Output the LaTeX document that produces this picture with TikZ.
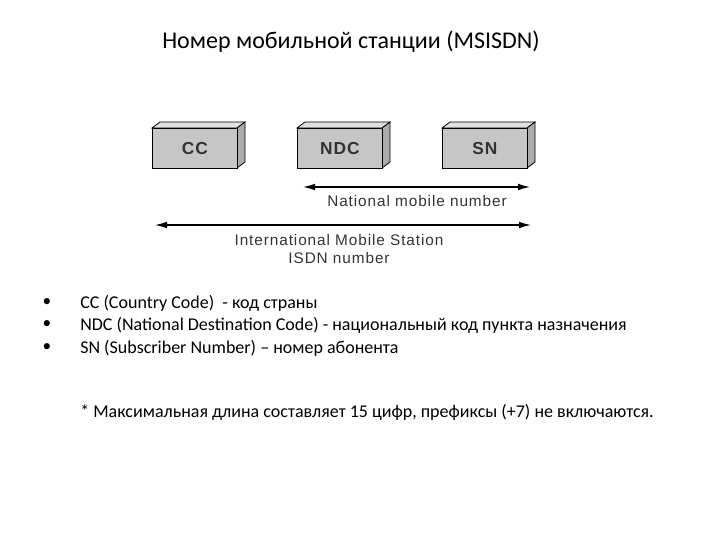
\documentclass[tikz,border=0pt]{standalone}
\usepackage{fontspec}
\setmainfont{Carlito}
\newfontfamily\arialf[LetterSpace=6]{Liberation Sans}
\usetikzlibrary{arrows.meta}
\begin{document}
\begin{tikzpicture}[x=0.75pt,y=-0.75pt,
  face/.style={draw=black,fill=gray!45,line width=0.6pt},
  topf/.style={draw=black,fill=gray!25,line width=0.6pt},
  sidef/.style={draw=black,fill=gray!65,line width=0.6pt},
  lbl/.style={font=\arialf\bfseries\fontsize{13}{13}\selectfont,text=black!80},
  dim/.style={line width=0.9pt,{Latex[length=9pt,width=5pt]}-{Latex[length=9pt,width=5pt]}},
  captxt/.style={font=\arialf\fontsize{11.5}{14}\selectfont,align=center,text=black!80},
  txt/.style={font=\fontsize{13.5}{16}\selectfont,anchor=west,inner sep=0pt}]
\useasboundingbox (0,0) rectangle (720,540);
\node[font=\fontsize{18}{20}\selectfont] (title) at (351,42) {Номер мобильной станции (MSISDN)};
\foreach \n/\x/\t in {cc/152/CC,ndc/297/NDC,sn/442/SN}{
  \filldraw[topf] (\x,128) -- (\x+8,122) -- (\x+93,122) -- (\x+85,128) -- cycle;
  \filldraw[sidef] (\x+85,128) -- (\x+93,122) -- (\x+93,162) -- (\x+85,168) -- cycle;
  \node[face,minimum width=63.75pt,minimum height=30pt,anchor=north west,lbl] (\n) at (\x,128) {\t};
}
\coordinate (n1) at (303,187);
\coordinate (n2) at (530,187);
\draw[dim] (n1) -- (n2);
\node[captxt] (nl) at (417,201) {National mobile number};
\coordinate (i1) at (155,225);
\coordinate (i2) at (531,225);
\draw[dim] (i1) -- (i2);
\node[captxt] (il) at (339,249) {International Mobile Station\\ISDN number};
\foreach \y in {303,325,348}{\node[font=\fontsize{13}{14}\selectfont] at (47,\y) {•};}
\node[txt] (b1) at (80,303) {CC (Country Code)\ \ - код страны};
\node[txt] (b2) at (80,325) {NDC (National Destination Code) - национальный код пункта назначения};
\node[txt] (b3) at (80,348) {SN (Subscriber Number) – номер абонента};
\node[txt] (note) at (80,412) {* Максимальная длина составляет 15 цифр, префиксы (+7) не включаются.};
\end{tikzpicture}
\end{document}
